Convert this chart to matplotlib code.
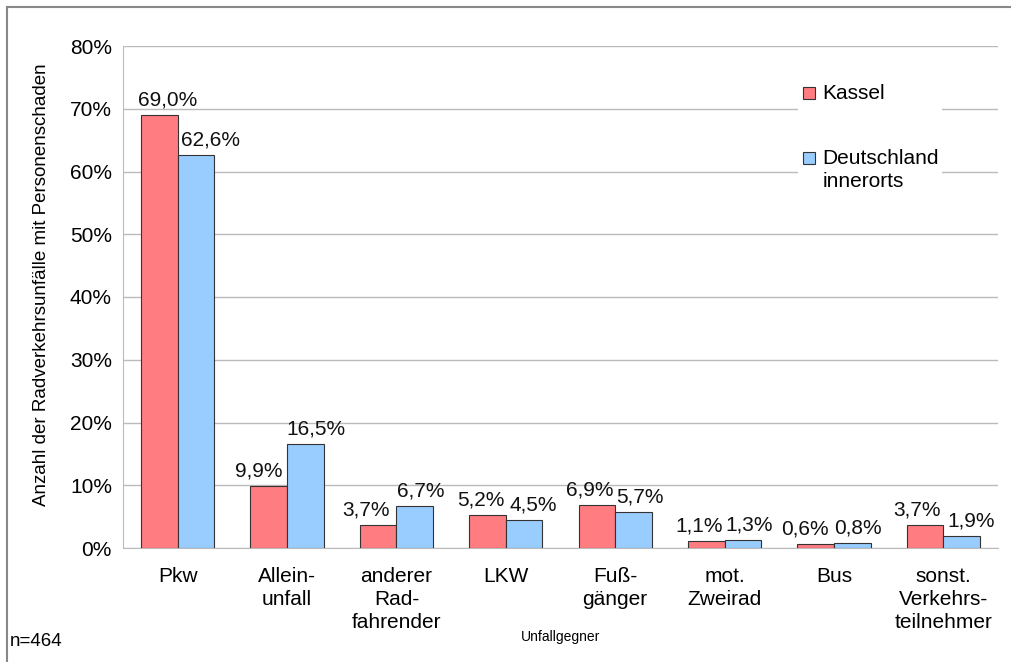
import numpy as np
import matplotlib.pyplot as plt
from matplotlib.patches import Rectangle
from matplotlib.lines import Line2D

plt.rcParams['font.family'] = ['Liberation Sans', 'DejaVu Sans']

categories = ['Pkw', 'Allein-\nunfall', 'anderer\nRad-\nfahrender', 'LKW', 'Fuß-\ngänger',
              'mot.\nZweirad', 'Bus', 'sonst.\nVerkehrs-\nteilnehmer']
kassel = [69.0, 9.9, 3.7, 5.2, 6.9, 1.1, 0.6, 3.7]
deutschland = [62.6, 16.5, 6.7, 4.5, 5.7, 1.3, 0.8, 1.9]
yticks = [0, 10, 20, 30, 40, 50, 60, 70, 80]

# horizontal nudges of the value labels (pixels), as placed in the original
shift_k = [8, -10, -12, -7, -7, -7, -11, -8]
shift_d = [14, 11, 6, 9, 6, 6, 6, 9]

red = '#FF7C80'
blue = '#99CCFF'
edge = '#333333'

fig = plt.figure(figsize=(10.12, 6.62), dpi=100)
ax = fig.add_axes([123/1012, 1-548/662, 875/1012, 502/662])

x = np.arange(len(categories))
w = 0.335
b1 = ax.bar(x - w/2, kassel, w, color=red, edgecolor=edge, linewidth=0.8, zorder=3)
b2 = ax.bar(x + w/2, deutschland, w, color=blue, edgecolor=edge, linewidth=0.8, zorder=3)

def fmt(v):
    return ('%.1f%%' % v).replace('.', ',')

for bars, vals, shifts in [(b1, kassel, shift_k), (b2, deutschland, shift_d)]:
    for rect, v, s in zip(bars, vals, shifts):
        ax.annotate(fmt(v), (rect.get_x() + rect.get_width()/2, v),
                    xytext=(s*0.72, 4), textcoords='offset points',
                    ha='center', va='bottom', fontsize=15, color='#111111', zorder=5)

ax.set_xlim(-0.5, len(categories) - 0.5)
ax.set_ylim(0, 80)
ax.set_yticks(yticks)
ax.set_yticklabels(['%d%%' % t for t in yticks], fontsize=15)
ax.set_xticks(x)
ax.set_xticklabels(categories, fontsize=15, linespacing=1.25, va='top')
ax.tick_params(axis='y', length=0, pad=8)
ax.tick_params(axis='x', length=0, pad=14)
ax.grid(axis='y', color='#bbbbbb', linewidth=1, zorder=0)
for s in ['top', 'right']:
    ax.spines[s].set_visible(False)
ax.spines['left'].set_color('#bbbbbb')
ax.spines['bottom'].set_color('#bbbbbb')

ax.set_ylabel('Anzahl der Radverkehrsunfälle mit Personenschaden', fontsize=13.5)
ax.yaxis.set_label_coords(-0.083, 0.524)
ax.set_xlabel('Unfallgegner', fontsize=10)
ax.xaxis.set_label_coords(0.5, -0.163)

# legend drawn by hand to match the layout
ax.add_patch(Rectangle((0.772, 0.690), 0.164, 0.252, transform=ax.transAxes,
                       facecolor='white', edgecolor='none', zorder=4))
ax.add_patch(Rectangle((0.777, 0.894), 0.0137, 0.024, transform=ax.transAxes,
                       facecolor=red, edgecolor=edge, linewidth=0.8, zorder=5))
ax.add_patch(Rectangle((0.777, 0.765), 0.0137, 0.024, transform=ax.transAxes,
                       facecolor=blue, edgecolor=edge, linewidth=0.8, zorder=5))
ax.text(0.799, 0.906, 'Kassel', transform=ax.transAxes, fontsize=15,
        va='center', ha='left', zorder=6)
ax.text(0.799, 0.795, 'Deutschland\ninnerorts', transform=ax.transAxes, fontsize=15,
        va='top', ha='left', linespacing=1.3, zorder=6)

fig.text(10/1012, 1-641/662, 'n=464', fontsize=13.5, va='center', ha='left')

fig.add_artist(Line2D([7/1012, 7/1012], [0, 1-7/662], color='#888888', linewidth=1.5))
fig.add_artist(Line2D([7/1012, 1], [1-7/662, 1-7/662], color='#888888', linewidth=1.5))

fig.savefig('out.png', dpi=100, facecolor='white')
